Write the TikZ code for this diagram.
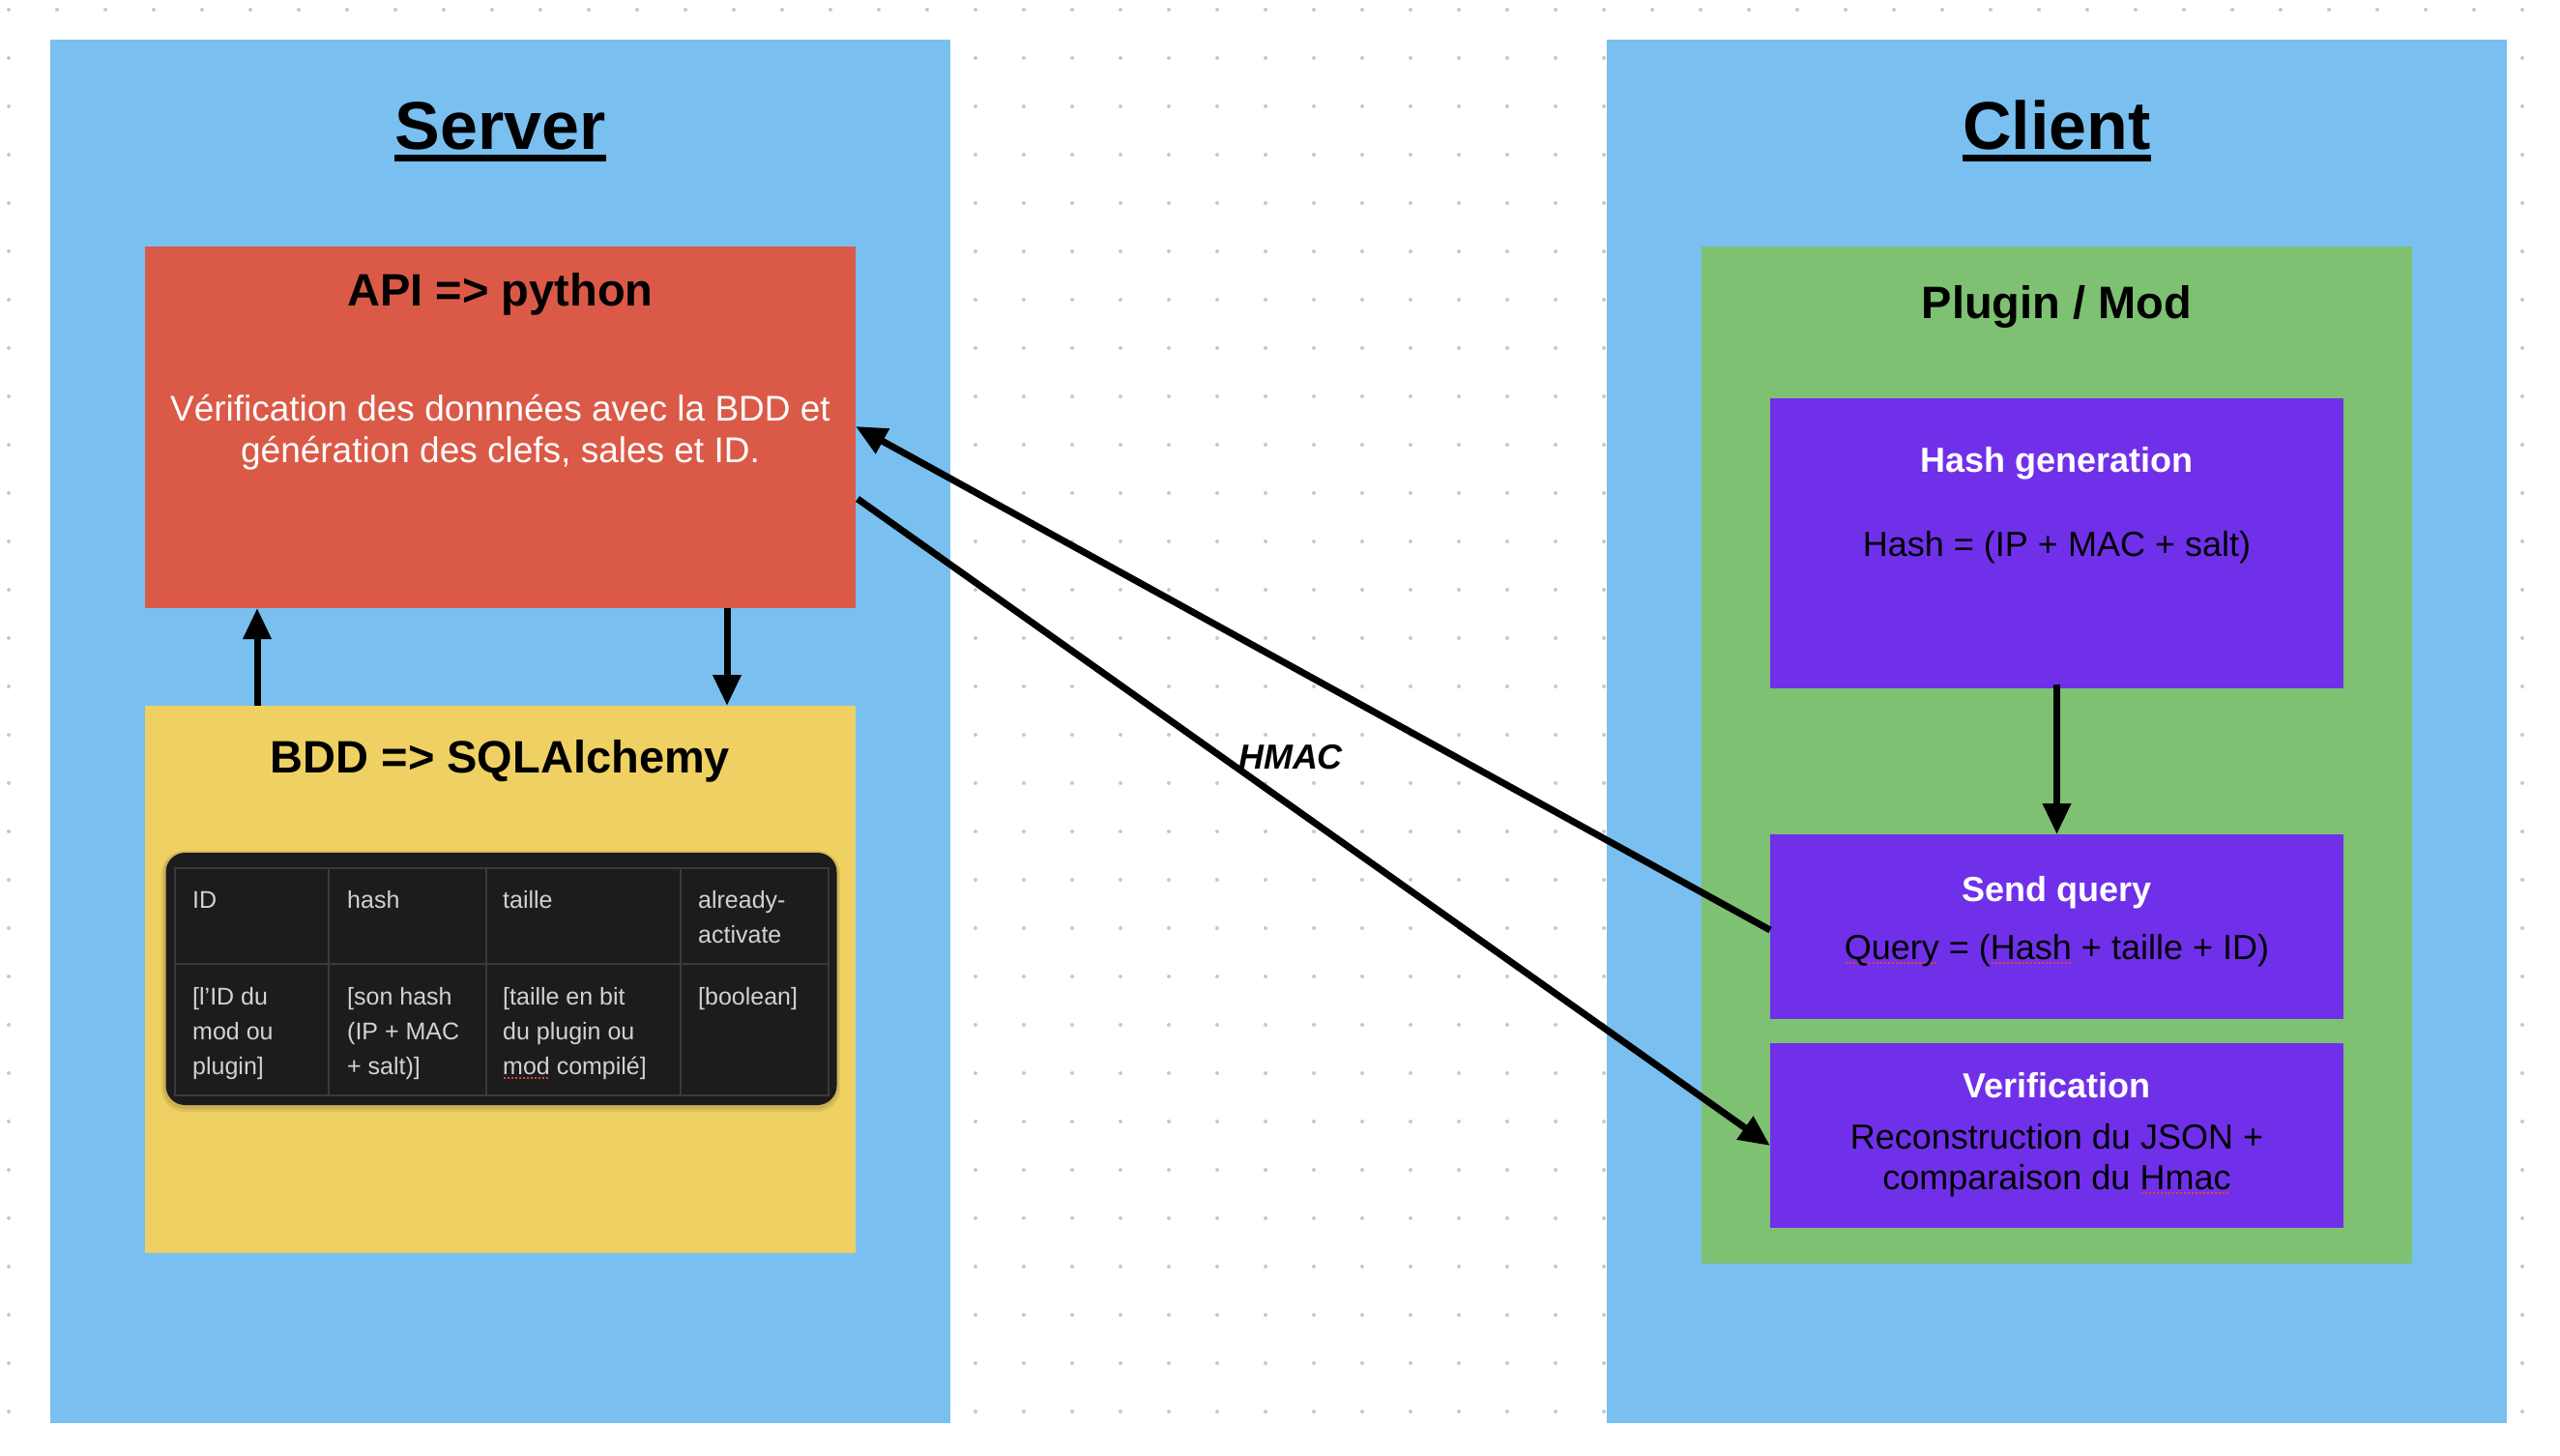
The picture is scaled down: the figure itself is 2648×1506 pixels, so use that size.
\documentclass[tikz,border=0pt]{standalone}
\usepackage{fontspec}
\setmainfont{Liberation Sans}
\usetikzlibrary{arrows.meta,calc}
\definecolor{bgblue}{HTML}{79C0F1}
\definecolor{apired}{HTML}{DB5A47}
\definecolor{bddyellow}{HTML}{EFD063}
\definecolor{plugingreen}{HTML}{7EC172}
\definecolor{boxpurple}{HTML}{7030EA}
\definecolor{tablebg}{HTML}{1C1C1C}
\definecolor{tablegrid}{HTML}{3A3A3A}
\definecolor{tabletext}{HTML}{D2D2D2}
\definecolor{dotgray}{HTML}{C8C8C8}
\definecolor{spellred}{HTML}{E0443A}
\newcommand\spk[1]{\setbox0\hbox{#1}\hbox{\rlap{\raisebox{-5pt}{\color{spellred}\hbox to\wd0{\leaders\hbox to 4pt{\hss\rule{2pt}{2pt}\hss}\hfill}}}\box0}}
\tikzset{
  panel/.style={anchor=north west, inner sep=0pt, outer sep=0pt, draw=none},
  bigtitle/.style={anchor=base, inner sep=0pt, font=\fontsize{70}{84}\selectfont\bfseries},
  sectitle/.style={anchor=base, inner sep=0pt, font=\fontsize{47}{56}\selectfont\bfseries},
  ptitle/.style={anchor=base, inner sep=0pt, text=white, font=\fontsize{36}{43}\selectfont\bfseries},
  pbody/.style={anchor=base, inner sep=0pt, text=black, font=\fontsize{36}{43}\selectfont},
  apibody/.style={anchor=base, inner sep=0pt, text=white, font=\fontsize{37}{43}\selectfont},
  celltext/.style={anchor=base west, inner sep=0pt, text=tabletext, font=\fontsize{25}{30}\selectfont},
  conn/.style={line width=7pt, -{Triangle[length=32pt,width=28pt]}},
}
\begin{document}
\begin{tikzpicture}[x=1pt,y=-1pt]
\useasboundingbox (0,0) rectangle (2648,1506);
\fill[white] (0,0) rectangle (2648,1506);
% dotted background
\foreach \i in {0,...,52}{
  \foreach \j in {0,...,29}{
    \fill[dotgray] (9+50*\i,10+50*\j) circle (2);
  }
}
% ---------- Server ----------
\node[panel, fill=bgblue, minimum width=931pt, minimum height=1431pt] (server) at (52,41) {};
\node[bigtitle] (servertitle) at (517.5,155) {Server};
\fill ([yshift=-5pt]servertitle.base west) rectangle ([yshift=-12pt]servertitle.base east);

\node[panel, fill=apired, minimum width=735pt, minimum height=374pt] (api) at (150,255) {};
\node[sectitle] (apititle) at (517.5,317) {API => python};
\node[apibody] (apiline1) at (517.5,435) {Vérification des donnnées avec la BDD et};
\node[apibody] (apiline2) at (517.5,478) {génération des clefs, sales et ID.};

\node[panel, fill=bddyellow, minimum width=735pt, minimum height=566pt] (bdd) at (150,730) {};
\node[sectitle] (bddtitle) at (517.5,799) {BDD => SQLAlchemy};

% table
\fill[black, opacity=0.08, rounded corners=24pt] (167,880) rectangle (869,1150);
\fill[black, opacity=0.08, rounded corners=22pt] (169,881) rectangle (867,1147);
\node[panel, fill=tablebg, rounded corners=20pt, minimum width=694pt, minimum height=261pt] (table) at (171.5,882) {};
\draw[tablegrid, line width=2pt] (181,898) rectangle (857,1133);
\draw[tablegrid, line width=2pt] (181,997) -- (857,997);
\draw[tablegrid, line width=2pt] (340,898) -- (340,1133);
\draw[tablegrid, line width=2pt] (503,898) -- (503,1133);
\draw[tablegrid, line width=2pt] (704,898) -- (704,1133);
\node[celltext] (c11) at (199,939) {ID};
\node[celltext] (c12) at (359,939) {hash};
\node[celltext] (c13) at (520,939) {taille};
\node[celltext] (c14a) at (722,939) {already-};
\node[celltext] (c14b) at (722,975) {activate};
\node[celltext] (c21a) at (199,1039) {[l’ID du};
\node[celltext] (c21b) at (199,1075) {mod ou};
\node[celltext] (c21c) at (199,1111) {plugin]};
\node[celltext] (c22a) at (359,1039) {[son hash};
\node[celltext] (c22b) at (359,1075) {(IP + MAC};
\node[celltext] (c22c) at (359,1111) {+ salt)]};
\node[celltext] (c23a) at (520,1039) {[taille en bit};
\node[celltext] (c23b) at (520,1075) {du plugin ou};
\node[celltext] (c23c) at (520,1111) {\spk{mod} compilé]};
\node[celltext] (c24a) at (722,1039) {[boolean]};

% ---------- Client ----------
\node[panel, fill=bgblue, minimum width=931pt, minimum height=1431pt] (client) at (1662,41) {};
\node[bigtitle] (clienttitle) at (2127.5,155) {Client};
\fill ([yshift=-5pt]clienttitle.base west) rectangle ([yshift=-12pt]clienttitle.base east);

\node[panel, fill=plugingreen, minimum width=735pt, minimum height=1052pt] (plugin) at (1760,255) {};
\node[sectitle] (plugintitle) at (2127.5,330) {Plugin / Mod};

\node[panel, fill=boxpurple, minimum width=593pt, minimum height=300pt] (hashgen) at (1831,412) {};
\node[ptitle] (hashtitle) at (2127.5,488) {Hash generation};
\node[pbody] (hashbody) at (2127.5,575) {Hash = (IP + MAC + salt)};

\node[panel, fill=boxpurple, minimum width=593pt, minimum height=191pt] (query) at (1831,863) {};
\node[ptitle] (querytitle) at (2127.5,932) {Send query};
\node[pbody] (querybody) at (2127.5,992) {\spk{Query} = (\spk{Hash} + taille + ID)};

\node[panel, fill=boxpurple, minimum width=593pt, minimum height=191pt] (verif) at (1831,1079) {};
\node[ptitle] (veriftitle) at (2127.5,1135) {Verification};
\node[pbody] (verifline1) at (2127.5,1188) {Reconstruction du JSON +};
\node[pbody] (verifline2) at (2127.5,1230) {comparaison du \spk{Hmac}};

% ---------- connectors ----------
\draw[conn] ([xshift=116pt]bdd.north west) -- ([xshift=116pt]api.south west);
\draw[conn] ([xshift=-133pt]api.south east) -- ([xshift=-133pt]bdd.north east);
\draw[conn] ([yshift=4pt]hashgen.south) -- (query.north);
\draw[conn] ([yshift=-99pt]query.north west) -- ([yshift=-186pt]api.north east);
\draw[conn] ([xshift=2pt,yshift=-261pt]api.north east) -- ([yshift=-106pt]verif.north west);
\node[anchor=base, inner sep=0pt, font=\fontsize{36}{43}\selectfont\bfseries\itshape] (hmac) at (1335,795) {HMAC};
\end{tikzpicture}
\end{document}
